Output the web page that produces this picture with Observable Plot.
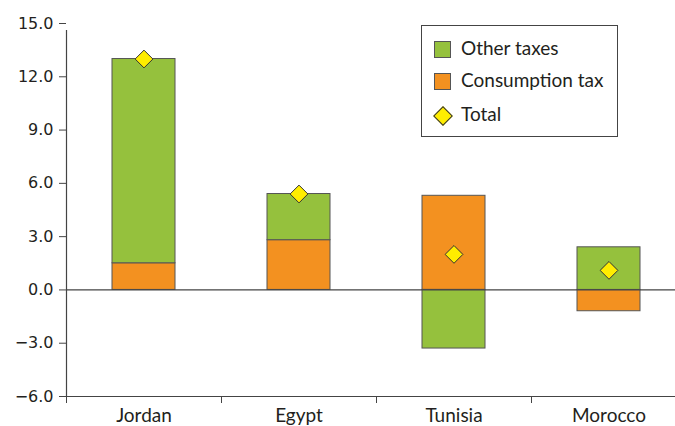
<!DOCTYPE html>
<html>
<head>
<meta charset="utf-8">
<script src="https://cdn.jsdelivr.net/npm/d3@7"></script>
<script src="https://cdn.jsdelivr.net/npm/@observablehq/plot@0.6"></script>
<style>
  body { margin: 0; background: #fff; }
  #wrap { position: relative; width: 675px; height: 426px; }
  #legend { position: absolute; left: 421px; top: 25px; width: 197px; height: 112px;
    border: 1px solid #444; background: #fff; box-sizing: border-box;
    font-family: Lato, "Open Sans", sans-serif; font-size: 19px; color: #231f20; }
  .sw { position: absolute; left: 12px; width: 17px; height: 17px; border: 1px solid #555; box-sizing: border-box; }
  .dia { position: absolute; left: 14px; top: 83px; width: 12px; height: 12px; background: #ffed00; border: 1px solid #333; transform: rotate(45deg); }
  .lab { position: absolute; left: 39px; line-height: 20px; }
</style>
</head>
<body>
<div id="wrap">
  <div id="chart"></div>
  <div id="legend">
    <div class="sw" style="top:15px;background:#95c13d"></div><div class="lab" style="top:12px">Other taxes</div>
    <div class="sw" style="top:47px;background:#f39120"></div><div class="lab" style="top:44px">Consumption tax</div>
    <div class="dia"></div><div class="lab" style="top:78px">Total</div>
  </div>
</div>
<script>
const countries = ["Jordan", "Egypt", "Tunisia", "Morocco"];
const consumptionTax = [1.5, 2.8, 5.3, -1.2];
const otherTaxes = [11.5, 2.6, -3.3, 2.4];
const totals = [13.0, 5.4, 2.0, 1.1];
const yTicks = [-6, -3, 0, 3, 6, 9, 12, 15];

const rows = [];
countries.forEach((c, i) => {
  rows.push({country: c, type: "Consumption tax", value: consumptionTax[i]});
  rows.push({country: c, type: "Other taxes", value: otherTaxes[i]});
});
const totalRows = countries.map((c, i) => ({country: c, total: totals[i]}));

const chart = Plot.plot({
  width: 675,
  height: 426,
  marginLeft: 66,
  marginRight: 0,
  marginTop: 23,
  marginBottom: 30,
  style: {fontFamily: "DejaVu Sans, sans-serif", fontSize: "16px", color: "#231f20", background: "#fff"},
  x: {domain: countries, range: [66, 686], padding: 0, axis: null},
  y: {domain: [-6, 15], range: [396, 23], axis: null},
  color: {domain: ["Consumption tax", "Other taxes"], range: ["#f39120", "#95c13d"]},
  marks: [
    Plot.barY(rows, Plot.stackY({x: "country", y: "value", fill: "type", order: null,
      stroke: "#555", strokeWidth: 1, insetLeft: 46, insetRight: 46})),
    Plot.ruleY([0], {stroke: "#444", strokeWidth: 1.2}),
    Plot.ruleY([-6], {stroke: "#444", strokeWidth: 1.2}),
    Plot.ruleX(countries, {x: d => d, dx: -77.5, y1: -6, y2: -6, insetBottom: -7, stroke: "#444"}),
    Plot.ruleX([countries[0]], {x: d => d, dx: -77.5, y1: -6, y2: 15, insetBottom: -7, stroke: "#444", strokeWidth: 1.2}),
    Plot.axisY(yTicks, {anchor: "left", tickSize: 7, tickPadding: 6, tickFormat: d3.format(".1f"),
      stroke: "#444", fill: "#231f20", fontSize: 16}),
    Plot.text(countries, {x: d => d, y: -6, dy: 19, text: d => d,
      fontFamily: "Lato, 'Open Sans', sans-serif", fontSize: 19, fill: "#231f20"}),
    Plot.dot(totalRows, {x: "country", y: "total", symbol: "diamond2", r: 8,
      fill: "#ffed00", stroke: "#333", strokeWidth: 1})
  ]
});
document.getElementById("chart").appendChild(chart);
</script>
</body>
</html>
